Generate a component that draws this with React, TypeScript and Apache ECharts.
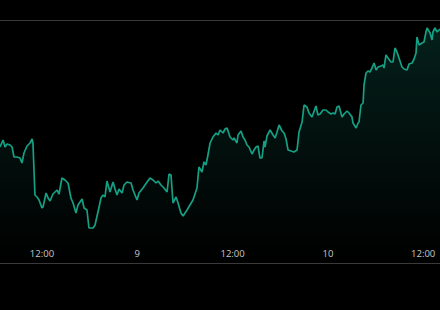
import React, { useEffect, useRef } from "react";
import * as echarts from "echarts";

// Start of the visible window and its length (minutes)
const startTime = "2024-01-08T06:43:00";
const spanMinutes = 3324;

// Minutes after startTime for each price sample
const minutes = [
  0, 23, 38, 53, 76, 91, 106, 128, 151, 166, 181, 204, 227, 242, 249, 264, 280, 295, 317, 325,
  348, 363, 378, 400, 431, 446, 468, 491, 514, 536, 552, 574, 589, 620, 635, 657, 672, 703, 718, 740,
  763, 778, 793, 808, 831, 854, 869, 884, 899, 922, 937, 959, 990, 1005, 1035, 1050, 1080, 1111, 1133, 1156,
  1179, 1194, 1216, 1239, 1262, 1277, 1292, 1307, 1330, 1345, 1367, 1383, 1413, 1435, 1458, 1488, 1503, 1526, 1541, 1556,
  1571, 1587, 1609, 1632, 1647, 1662, 1685, 1700, 1715, 1738, 1760, 1768, 1790, 1798, 1821, 1836, 1851, 1866, 1881, 1904,
  1919, 1934, 1949, 1964, 1979, 1995, 2002, 2017, 2040, 2063, 2078, 2093, 2108, 2131, 2146, 2161, 2176, 2199, 2221, 2244,
  2259, 2282, 2297, 2319, 2334, 2357, 2365, 2387, 2402, 2418, 2440, 2463, 2478, 2501, 2516, 2531, 2546, 2561, 2584, 2599,
  2622, 2637, 2659, 2667, 2690, 2705, 2712, 2727, 2743, 2750, 2765, 2780, 2795, 2810, 2826, 2841, 2856, 2878, 2894, 2901,
  2916, 2931, 2954, 2969, 2984, 2999, 3014, 3037, 3052, 3075, 3090, 3113, 3128, 3143, 3150, 3166, 3188, 3203, 3218, 3226,
  3249, 3264, 3271, 3286, 3302, 3324,
];

// Price level at each sample
const prices = [
  116, 123, 116, 119, 118, 116, 106, 106, 105, 100, 110, 117, 120, 124, 120, 68, 66, 63, 55, 56,
  70, 65, 62, 69, 73, 69, 85, 83, 80, 65, 60, 50, 58, 64, 55, 53, 35, 35, 38, 51,
  65, 68, 66, 82, 71, 81, 74, 68, 74, 70, 78, 81, 80, 73, 63, 70, 75, 81, 85, 83,
  80, 82, 78, 75, 71, 89, 88, 60, 66, 60, 50, 47, 53, 58, 63, 75, 96, 91, 101, 98,
  108, 120, 126, 130, 128, 133, 130, 134, 135, 126, 123, 125, 120, 128, 132, 126, 123, 118, 116, 109,
  113, 116, 117, 105, 105, 122, 116, 127, 133, 128, 125, 131, 138, 132, 130, 124, 113, 112, 111, 113,
  131, 141, 158, 156, 150, 146, 149, 157, 148, 149, 153, 153, 151, 149, 150, 149, 156, 157, 146, 149,
  152, 150, 146, 140, 135, 140, 141, 158, 160, 178, 190, 192, 191, 195, 200, 193, 196, 197, 198, 195,
  208, 205, 201, 201, 215, 211, 205, 196, 194, 193, 199, 200, 204, 210, 226, 218, 220, 221, 231, 235,
  230, 223, 231, 235, 231, 234,
];

// Value axis range
const priceMin = 0;
const priceMax = 243;

export default function App() {
  const ref = useRef<HTMLDivElement>(null);

  useEffect(() => {
    document.body.style.margin = "0";
    document.body.style.background = "#000";
    if (!ref.current) return;
    const chart = echarts.init(ref.current, undefined, { renderer: "svg" });
    const t0 = new Date(startTime).getTime();
    const data = minutes.map((m, i) => [t0 + m * 60000, prices[i]]);
    const pad = (n: number) => (n < 10 ? "0" + n : String(n));

    chart.setOption({
      animation: false,
      backgroundColor: "#000",
      grid: { left: 0, right: 0, top: 20, bottom: 47 },
      xAxis: {
        type: "time",
        min: t0,
        max: t0 + spanMinutes * 60000,
        axisLine: { show: false },
        axisTick: { show: false },
        splitLine: { show: false },
        axisLabel: {
          inside: true,
          margin: 5,
          color: "#c8c8c8",
          fontSize: 9.5,
          fontFamily: "Open Sans",
          showMinLabel: false,
          showMaxLabel: false,
          hideOverlap: false,
          formatter: (val: number) => {
            const d = new Date(val);
            const h = d.getHours();
            if (d.getMinutes() !== 0) return "";
            if (h === 0) return String(d.getDate());
            if (h === 12) return "12:00";
            return "";
          },
        },
      },
      yAxis: {
        type: "value",
        min: priceMin,
        max: priceMax,
        interval: priceMax - priceMin,
        axisLine: { show: false },
        axisTick: { show: false },
        axisLabel: { show: false },
        splitLine: { show: true, lineStyle: { color: "#3a3a3a", width: 1 } },
      },
      series: [
        {
          type: "line",
          data,
          showSymbol: false,
          symbol: "none",
          lineStyle: { color: "#15a084", width: 1.7 },
          areaStyle: {
            color: new echarts.graphic.LinearGradient(0, 0, 0, 1, [
              { offset: 0, color: "rgba(21,160,132,0.28)" },
              { offset: 1, color: "rgba(21,160,132,0)" },
            ]),
          },
        },
      ],
    });
    return () => chart.dispose();
  }, []);

  return <div ref={ref} style={{ width: 440, height: 310, background: "#000" }} />;
}
